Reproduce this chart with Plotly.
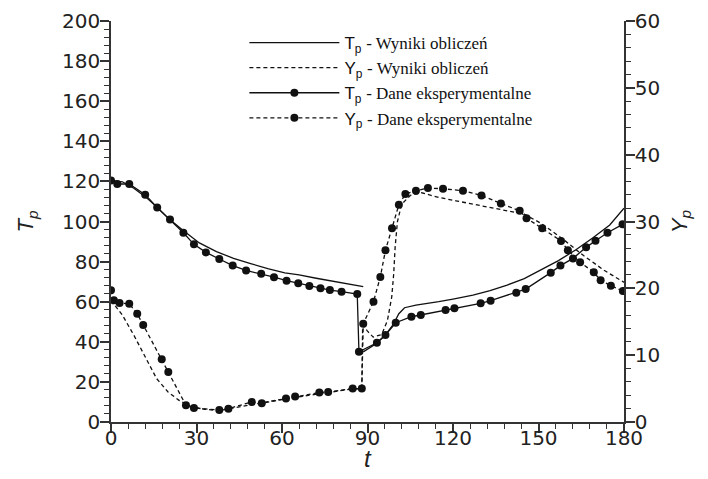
import plotly.graph_objects as go

# --- data -------------------------------------------------------------
t_Tp_calc = [0, 4, 8, 12, 16, 20, 25, 31, 37, 43, 49, 55, 61, 66, 72, 78, 84, 88.5,
             None,
             88.5, 93, 96, 99, 101, 103, 107, 111, 115, 120, 127, 133, 139, 145, 151,
             157, 163, 169, 175, 180]
Tp_calc = [120.5, 119.8, 116.6, 112.4, 107.3, 101.8, 95.9, 89.3, 85.0, 81.6, 79.0, 76.5,
           74.4, 73.4, 71.7, 70.3, 68.8, 67.5,
           None,
           35, 39, 43, 48.5, 54, 57, 58.3, 59, 60, 61.3, 63.3, 65.5, 68.3, 71.5, 75.8,
           80.5, 85.8, 91.8, 98.3, 106.6]

t_Yp_calc = [0, 4, 8, 12, 16, 20, 24, 28, 33, 38, 45, 52, 60, 68, 76, 84, 88, 88.3, 90,
             92, 95, 97, 98.5, 99.2, 99.7, 100.5, 102, 105, 109, 115, 121, 127, 133,
             139, 145, 151, 158.5, 165.8, 173, 180]
Yp_calc = [18.2, 16, 13, 9.8, 6.5, 4.5, 3.2, 2.3, 1.9, 1.7, 2.2, 2.8, 3.4, 3.9, 4.4, 4.9,
           5.0, 14.5, 13.6, 12.7, 13.1, 15.2, 18.7, 22.2, 26.2, 30, 32.6, 33.9, 34.3,
           33.6, 33.1, 32.6, 32.2, 31.7, 31.1, 29.7, 27.4, 24.9, 22.7, 20.9]

t_Tp_exp = [0, 2.2, 6.4, 12, 16.2, 20.7, 25.4, 29.1, 33.3, 38, 42.7, 47.4, 52.7, 57.2,
            61.6, 65.7, 69.6, 73.5, 76.8, 80.9, 86.4, 87.0, 93.3, 96.3, 99.9, 105.4,
            108.7, 117.4, 120.5, 129.7, 133.2, 142.2, 145.5, 154.3, 157.7, 162.1,
            166.7, 170, 174.2, 179.5]
Tp_exp = [120.5, 118.7, 118.7, 113.4, 107, 101, 94.4, 88.6, 84.6, 81.3, 78, 75.6, 73.9,
          72.2, 70.5, 69.2, 67.8, 66.7, 65.8, 65, 63.8, 35, 39.5, 43.4, 49.5, 52.5, 53.4,
          55.9, 56.7, 59.2, 60.5, 64.5, 66.3, 74.5, 78, 81.6, 87.1, 90.4, 94.4, 98.6]

t_Yp_exp = [0, 1, 3, 6.4, 9.2, 11.3, 17.8, 20.1, 26.3, 29.1, 38, 41.2, 49.4, 52.9, 61.4,
            64.6, 73.1, 76.2, 84.8, 88, 88.5, 92.1, 94.5, 96.3, 98.6, 101, 103.3, 107,
            111.2, 116.5, 123.5, 130, 136.8, 143.4, 145.8, 151.3, 157.9, 160.3, 164.6,
            169.4, 171.8, 175.4, 179.6]
Yp_exp = [19.7, 18.2, 17.8, 17.7, 16.2, 14.5, 9.4, 7.5, 2.5, 2.1, 1.8, 2.0, 3.0, 2.8, 3.5,
          3.8, 4.4, 4.5, 5.0, 5.0, 14.7, 18.0, 21.7, 25.7, 29.0, 32.5, 34.1, 34.6, 35.0,
          34.9, 34.6, 33.9, 32.7, 31.6, 30.5, 29.0, 27.1, 25.7, 23.9, 22.4, 21.2, 20.4,
          19.6]

x_ticks = [0, 30, 60, 90, 120, 150, 180]
yl_ticks = [0, 20, 40, 60, 80, 100, 120, 140, 160, 180, 200]
yr_ticks = [0, 10, 20, 30, 40, 50, 60]

names = [
    "T<sub>p</sub> <span style='font-family:Liberation Serif'>- Wyniki obliczeń</span>",
    "Y<sub>p</sub> <span style='font-family:Liberation Serif'>- Wyniki obliczeń</span>",
    "T<sub>p</sub> <span style='font-family:Liberation Serif'>- Dane eksperymentalne</span>",
    "Y<sub>p</sub> <span style='font-family:Liberation Serif'>- Dane eksperymentalne</span>",
]

# --- figure -----------------------------------------------------------
ink = "#111111"
dash = "4px,3px"
fig = go.Figure()
fig.add_trace(go.Scatter(x=t_Tp_calc, y=Tp_calc, mode="lines", name=names[0],
                         line=dict(color=ink, width=1.3), connectgaps=False))
fig.add_trace(go.Scatter(x=t_Yp_calc, y=Yp_calc, mode="lines", name=names[1], yaxis="y2",
                         line=dict(color=ink, width=1.3, dash=dash)))
fig.add_trace(go.Scatter(x=t_Tp_exp, y=Tp_exp, mode="lines+markers", name=names[2],
                         line=dict(color=ink, width=1.3),
                         marker=dict(color=ink, size=8)))
fig.add_trace(go.Scatter(x=t_Yp_exp, y=Yp_exp, mode="lines+markers", name=names[3], yaxis="y2",
                         line=dict(color=ink, width=1.3, dash=dash),
                         marker=dict(color=ink, size=8)))

axfont = dict(family="DejaVu Sans", size=20, color="#222222")
common = dict(showgrid=False, zeroline=False, showline=True, linecolor="#333333",
              linewidth=1.6, ticks="outside", tickcolor="#333333", tickwidth=1.5,
              ticklen=9, tickfont=axfont, automargin=False)

fig.update_layout(
    width=700, height=471,
    margin=dict(l=103, r=84, t=13, b=57),
    paper_bgcolor="white", plot_bgcolor="white",
    showlegend=True,
    legend=dict(x=0.26, y=0.99, xanchor="left", yanchor="top",
                bgcolor="rgba(0,0,0,0)", itemwidth=90, tracegroupgap=0,
                font=dict(family="Liberation Sans, Arial", size=17, color=ink)),
    xaxis=dict(range=[0, 180], tickvals=x_ticks, ticklabelstandoff=-12,
        minor=dict(dtick=6, ticks="outside", ticklen=5, tickcolor="#333333", tickwidth=1.2),
        **common),
    yaxis=dict(range=[0, 200], tickvals=yl_ticks, ticklabelstandoff=-4, title=dict(
        text="<i>T<sub>p</sub></i>", font=dict(family="Liberation Sans, Arial", size=22, color="#222222"),
        standoff=22),
        minor=dict(dtick=4, ticks="outside", ticklen=5, tickcolor="#333333", tickwidth=1.2),
        **common),
    yaxis2=dict(range=[0, 60], tickvals=yr_ticks, overlaying="y", side="right",
        ticklabelstandoff=-4,
        title=dict(text="<i>Y<sub>p</sub></i>",
                   font=dict(family="Liberation Sans, Arial", size=22, color="#222222"),
                   standoff=12),
        minor=dict(dtick=2, ticks="outside", ticklen=5, tickcolor="#333333", tickwidth=1.2),
        **common),
    annotations=[dict(text="<i>t</i>", xref="paper", yref="paper", x=0.5, y=-0.092,
                      xanchor="center", yanchor="middle", showarrow=False,
                      font=dict(family="Liberation Sans, Arial", size=24, color="#222222"))],
)

fig.write_html("out.html")
